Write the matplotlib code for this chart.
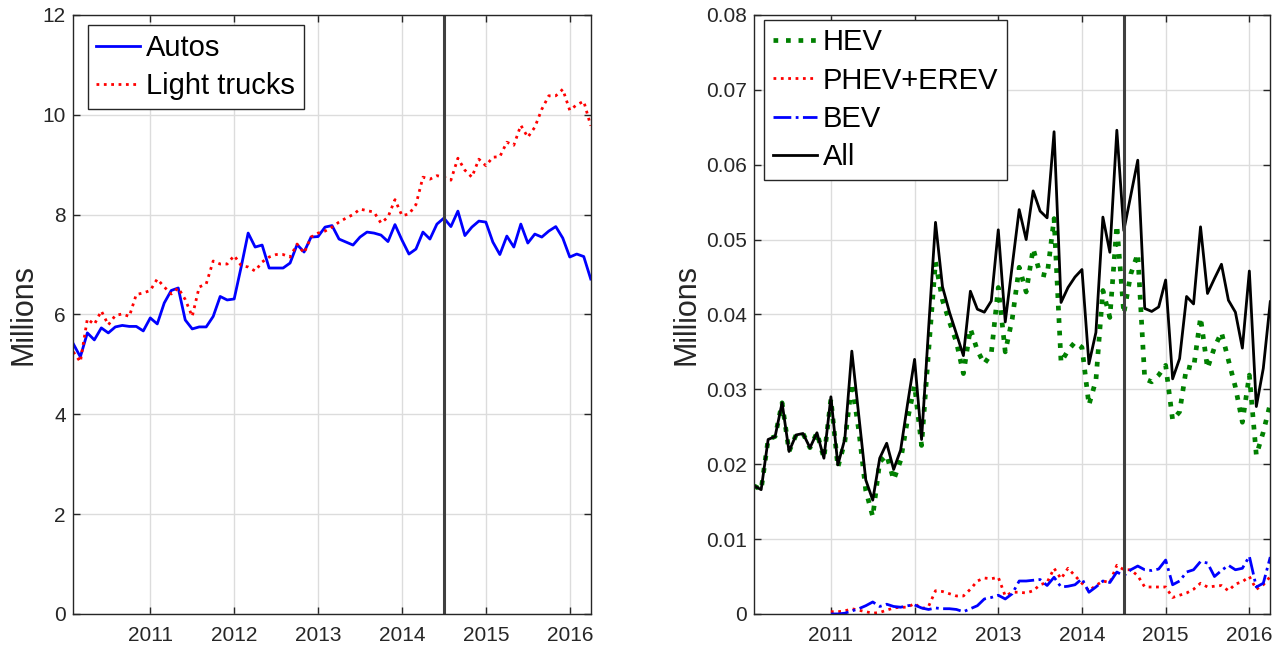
import numpy as np
import matplotlib
matplotlib.use("Agg")
import matplotlib.pyplot as plt
from matplotlib.ticker import FormatStrFormatter

plt.rcParams['font.family'] = ['Liberation Sans', 'DejaVu Sans']

# monthly data, Feb 2010 .. Apr 2016 (millions)
months = 2010 + np.arange(1, 76) / 12.0

autos = [5.41, 5.15, 5.63, 5.49, 5.73, 5.63, 5.75, 5.78, 5.76, 5.76, 5.67, 5.93,
         5.81, 6.23, 6.48, 6.53, 5.89, 5.71, 5.75, 5.75, 5.96, 6.36, 6.29, 6.31,
         6.95, 7.63, 7.35, 7.39, 6.93, 6.93, 6.93, 7.03, 7.40, 7.25, 7.55, 7.56,
         7.75, 7.78, 7.51, 7.45, 7.39, 7.55, 7.65, 7.63, 7.59, 7.46, 7.80, 7.49,
         7.21, 7.31, 7.65, 7.51, 7.81, 7.93, 7.76, 8.07, 7.58, 7.75, 7.87, 7.85,
         7.45, 7.20, 7.57, 7.35, 7.81, 7.43, 7.61, 7.55, 7.67, 7.76, 7.53, 7.15,
         7.21, 7.16, 6.71]

light_trucks = [5.25, 5.05, 5.91, 5.80, 6.07, 5.79, 5.98, 6.01, 5.96, 6.40, 6.43, 6.48,
                6.71, 6.55, 6.41, 6.53, 6.30, 5.96, 6.55, 6.61, 7.07, 7.01, 7.01, 7.18,
                6.98, 6.95, 6.87, 7.05, 7.15, 7.20, 7.20, 7.15, 7.41, 7.23, 7.55, 7.63,
                7.67, 7.75, 7.85, 7.93, 8.00, 8.11, 8.08, 8.05, 7.83, 7.95, 8.30, 7.98,
                8.01, 8.20, 8.75, 8.71, 8.78, 8.75, 8.69, 9.13, 8.89, 8.75, 9.11, 8.98,
                9.15, 9.16, 9.45, 9.39, 9.79, 9.55, 9.75, 10.11, 10.38, 10.38, 10.51, 10.09,
                10.20, 10.27, 9.78]

hev = [0.0171, 0.0166, 0.0233, 0.0237, 0.0282, 0.0217, 0.0239, 0.0241, 0.0222, 0.0242, 0.0208,
       0.0287, 0.0196, 0.0230, 0.0308, 0.0245, 0.0165, 0.0130, 0.0203, 0.0212, 0.0179, 0.0205,
       0.0260, 0.0305, 0.0225, 0.0350,
       0.0470, 0.0419, 0.0390, 0.0363, 0.0321, 0.0381, 0.0352, 0.0334, 0.0348, 0.0436,
       0.0350, 0.0394, 0.0463, 0.0430, 0.0488, 0.0454, 0.0452, 0.0528, 0.0336, 0.0352,
       0.0363, 0.0356, 0.0279, 0.0312,
       0.0432, 0.0396, 0.0519, 0.0401, 0.0454, 0.0481, 0.0314, 0.0310, 0.0319, 0.0332,
       0.0259, 0.0270, 0.0330, 0.0328, 0.0396, 0.0328, 0.0356, 0.0376, 0.0339, 0.0303,
       0.0256, 0.0319, 0.0212, 0.0243, 0.0281]

all_ev = [0.0171, 0.0166, 0.0233, 0.0237, 0.0282, 0.0217, 0.0239, 0.0241, 0.0222, 0.0242,
          0.0208, 0.0290, 0.0199, 0.0234, 0.0351, 0.0265, 0.0179, 0.0152, 0.0208, 0.0228,
          0.0193, 0.0219, 0.0281, 0.0340, 0.0233, 0.0380,
          0.0523, 0.0437, 0.0403, 0.0374, 0.0345, 0.0431, 0.0407, 0.0403, 0.0418, 0.0513,
          0.0390, 0.0465, 0.0540, 0.0500, 0.0565, 0.0538, 0.0529, 0.0644, 0.0416, 0.0436,
          0.0450, 0.0460, 0.0334,
          0.0376, 0.0530, 0.0483, 0.0646, 0.0512, 0.0559, 0.0606, 0.0408, 0.0404, 0.0410,
          0.0446, 0.0314, 0.0341, 0.0424, 0.0414, 0.0517, 0.0428, 0.0448, 0.0467, 0.0419,
          0.0403, 0.0355, 0.0458, 0.0277, 0.0328, 0.0417]

# plug-ins only from Jan 2011
months_pev = months[11:]

phev_erev = [0.0003, 0.0003, 0.0004, 0.0007, 0.0005, 0.0003, 0.0001, 0.0002, 0.0005, 0.0008,
             0.0009, 0.0009, 0.0014, 0.0007, 0.0010,
             0.0031, 0.0030, 0.0027, 0.0024, 0.0024, 0.0033, 0.0044, 0.0048, 0.0047, 0.0049,
             0.0024, 0.0029, 0.0029, 0.0028, 0.0031, 0.0039, 0.0042, 0.0061, 0.0047, 0.0061,
             0.0051, 0.0041, 0.0031,
             0.0038, 0.0044, 0.0042, 0.0065, 0.0059, 0.0059, 0.0051, 0.0036, 0.0036, 0.0036,
             0.0036, 0.0022, 0.0025, 0.0028, 0.0033, 0.0041, 0.0036, 0.0037, 0.0038, 0.0031,
             0.0040, 0.0043, 0.0050, 0.0033, 0.0039, 0.0050]

bev = [0.0000, 0.0000, 0.0001, 0.0004, 0.0007, 0.0011, 0.0016, 0.0010, 0.0013, 0.0010,
       0.0009, 0.0011, 0.0012, 0.0008, 0.0006,
       0.0008, 0.0007, 0.0007, 0.0006, 0.0003, 0.0007, 0.0011, 0.0020, 0.0022, 0.0025,
       0.0020, 0.0027, 0.0044, 0.0044, 0.0045, 0.0046, 0.0038, 0.0049, 0.0036, 0.0037,
       0.0039, 0.0047, 0.0029,
       0.0036, 0.0044, 0.0042, 0.0056, 0.0051, 0.0059, 0.0064, 0.0059, 0.0058, 0.0060,
       0.0072, 0.0039, 0.0044, 0.0056, 0.0059, 0.0070, 0.0068, 0.0050, 0.0058, 0.0065,
       0.0059, 0.0061, 0.0077, 0.0036, 0.0041, 0.0076]

year_ticks = [2011, 2012, 2013, 2014, 2015, 2016]
event_date = 2014.5

fig = plt.figure(figsize=(12.87, 6.49), dpi=100)
ax1 = fig.add_axes([0.057, 0.054, 0.402, 0.923])
ax2 = fig.add_axes([0.586, 0.054, 0.401, 0.923])


def style_axes(ax):
    ax.grid(True, color='#dcdcdc', linewidth=1.0)
    ax.set_axisbelow(True)
    ax.tick_params(direction='in', length=5, width=1, top=True, right=True,
                   labelsize=15, colors='#262626')
    ax.tick_params(axis='x', pad=9)
    ax.tick_params(axis='y', pad=5.5)
    for sp in ax.spines.values():
        sp.set_color('#262626')
        sp.set_linewidth(1.0)
    ax.set_xticks(year_ticks)
    ax.set_xlim(months[0], months[-1])
    ax.set_ylabel('Millions', fontsize=22, color='#262626', labelpad=3)


def style_legend(leg):
    leg.get_frame().set_edgecolor('#262626')
    leg.get_frame().set_linewidth(1.0)


legend_kw = dict(loc='upper left', fontsize=21, handlelength=1.5, handletextpad=0.2,
                 borderpad=0.3, labelspacing=0.35, borderaxespad=0.35,
                 fancybox=False, framealpha=1)

# left panel
ax1.plot(months, autos, color='blue', linewidth=2.0, label='Autos')
ax1.plot(months, light_trucks, color='red', linestyle=':', linewidth=2.0, label='Light trucks')
ax1.axvline(event_date, color='#404040', linewidth=2.2)
style_axes(ax1)
ax1.set_ylim(0, 12)
ax1.set_yticks(range(0, 13, 2))
style_legend(ax1.legend(bbox_to_anchor=(0.008, 1.0), **legend_kw))

# right panel
ax2.plot(months, hev, color='#008000', linestyle=':', linewidth=3.4, label='HEV')
ax2.plot(months_pev, phev_erev, color='red', linestyle=':', linewidth=2.0, label='PHEV+EREV')
ax2.plot(months_pev, bev, color='blue', linestyle='-.', linewidth=2.0, label='BEV')
ax2.plot(months, all_ev, color='black', linewidth=2.0, label='All')
ax2.axvline(event_date, color='#404040', linewidth=2.2)
style_axes(ax2)
ax2.set_ylim(0, 0.08)
ax2.set_yticks(np.arange(0, 0.081, 0.01))
ax2.yaxis.set_major_formatter(FormatStrFormatter('%g'))
style_legend(ax2.legend(bbox_to_anchor=(0.0, 1.009), **legend_kw))

fig.savefig('out.png', dpi=100)
